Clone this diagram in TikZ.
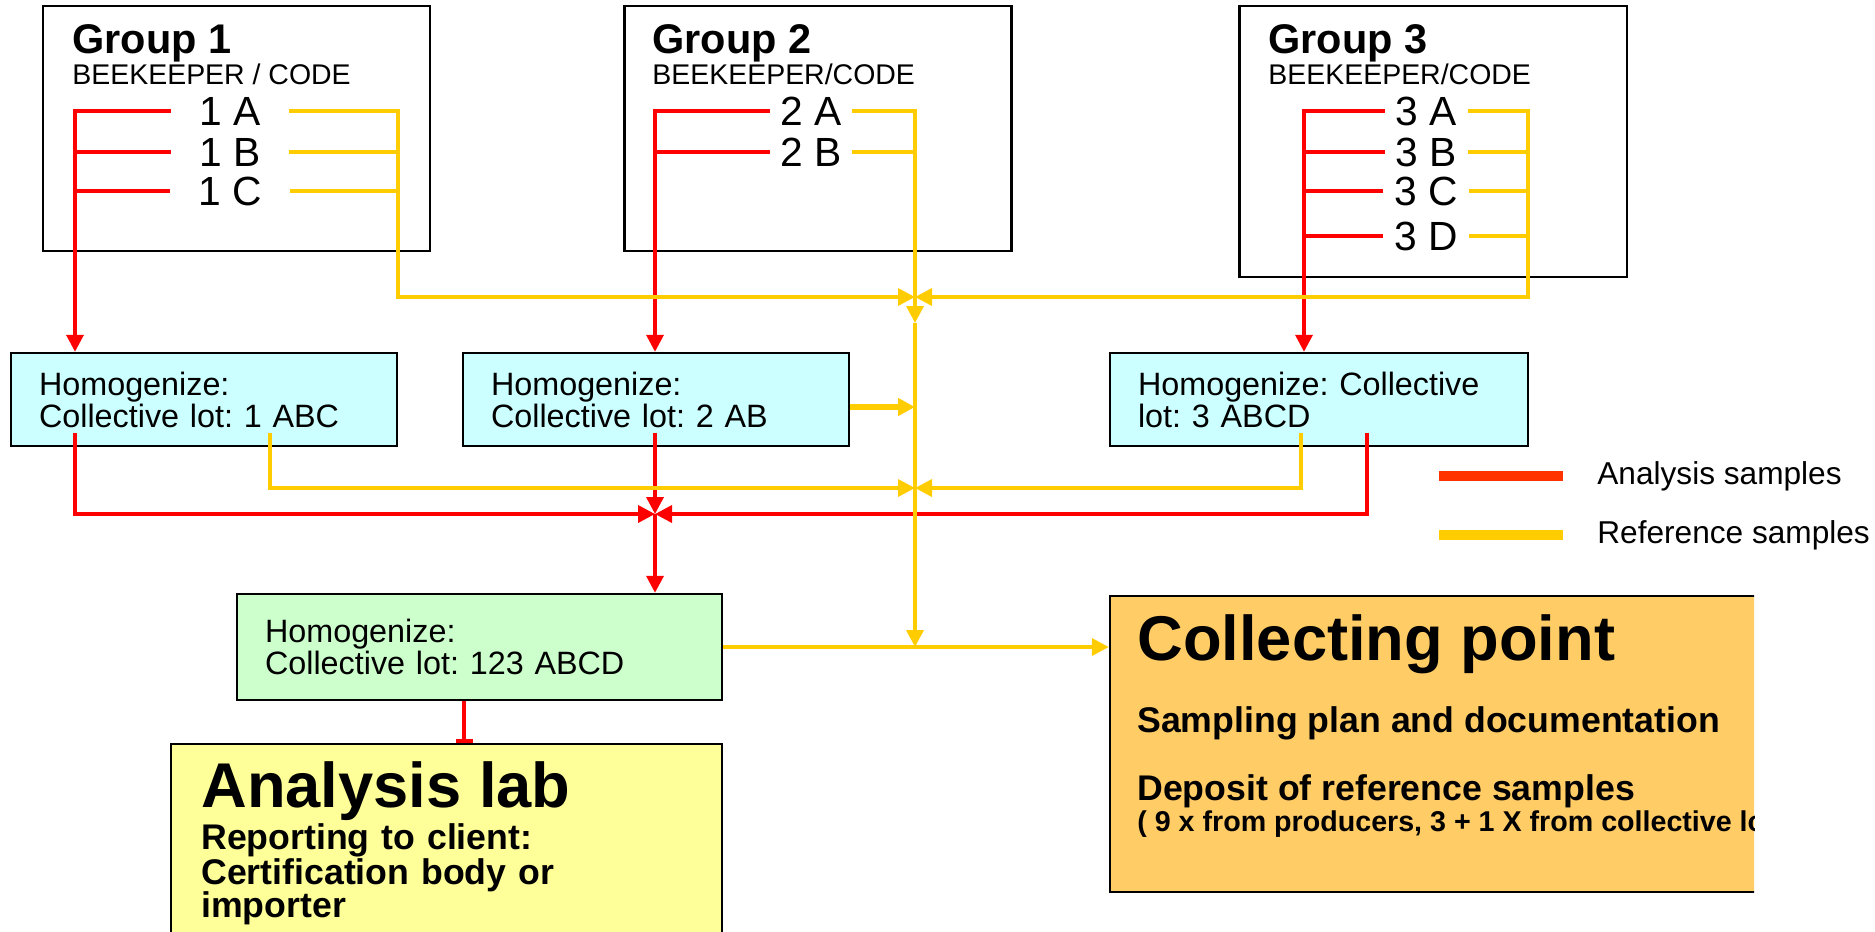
\documentclass[tikz,border=0pt]{standalone}
\usepackage{fontspec}
\setmainfont{Liberation Sans}
\usetikzlibrary{arrows.meta}
\frenchspacing

\definecolor{redline}{HTML}{FF0000}
\definecolor{yelline}{HTML}{FFCC00}
\definecolor{legred}{HTML}{FF3300}
\definecolor{homfill}{HTML}{CCFFFF}
\definecolor{lotfill}{HTML}{CCFFCC}
\definecolor{labfill}{HTML}{FFFF99}
\definecolor{colfill}{HTML}{FFCC66}

\tikzset{
  grpbox/.style={draw=black, line width=1.4pt, minimum width=7.75cm, inner sep=0pt},
  gtitle/.style={anchor=base west, inner sep=0pt, font=\fontsize{23.6}{28}\selectfont\bfseries},
  gsub/.style={anchor=base west, inner sep=0pt, font=\fontsize{16.2}{19}\selectfont},
  code/.style={inner xsep=6pt, inner ysep=0pt, font=\fontsize{23.2}{28}\selectfont},
  homog/.style={draw=black, line width=1.4pt, fill=homfill, minimum height=1.86cm,
    inner xsep=0.56cm, align=left, font=\fontsize{18.4}{17}\selectfont},
  bigtitle/.style={anchor=base west, inner sep=0pt, font=\fontsize{36}{40}\selectfont\bfseries},
  boldtext/.style={anchor=base west, inner sep=0pt, font=\fontsize{20.3}{19}\selectfont\bfseries},
  legtext/.style={anchor=west, inner sep=0pt, font=\fontsize{18}{20}\selectfont}
}

\begin{document}
\begin{tikzpicture}[x=0.02cm, y=-0.02cm,
  ana/.style={draw=redline, line width=2pt},
  ref/.style={draw=yelline, line width=2pt},
  tip/.style={-{Triangle[length=0.34cm,width=0.34cm]}}]
\useasboundingbox (0,0) rectangle (1875,931);

% group boxes
\node[grpbox, minimum height=4.9cm] (g1) at (236.5,128.5) {};
\node[grpbox, minimum height=4.9cm] (g2) at (818,128.5) {};
\node[grpbox, minimum height=5.42cm] (g3) at (1433,141.5) {};

\node[gtitle] (g1t) at (72,53) {Group 1};
\node[gsub] (g1s) at (72,84) {BEEKEEPER / CODE};
\node[gtitle] (g2t) at (652,53) {Group 2};
\node[gsub] (g2s) at (652,84) {BEEKEEPER/CODE};
\node[gtitle] (g3t) at (1268,53) {Group 3};
\node[gsub] (g3s) at (1268,84) {BEEKEEPER/CODE};

\node[code, inner xsep=16pt] (c1a) at (230,111) {1 A};
\node[code, inner xsep=16pt] (c1b) at (230,152) {1 B};
\node[code, inner xsep=16pt] (c1c) at (230,191) {1 C};
\node[code] (c2a) at (811,111) {2 A};
\node[code] (c2b) at (811,152) {2 B};
\node[code] (c3a) at (1426,111) {3 A};
\node[code] (c3b) at (1426,152) {3 B};
\node[code] (c3c) at (1426,191) {3 C};
\node[code] (c3d) at (1426,236) {3 D};

% homogenize boxes
\node[homog, text width=6.6cm] (h1) at (204,399.5) {Homogenize:\\Collective lot: 1 ABC};
\node[homog, text width=6.6cm] (h2) at (656,399.5) {Homogenize:\\Collective lot: 2 AB};
\node[homog, text width=7.24cm] (h3) at (1319,399.5) {Homogenize: Collective\\lot: 3 ABCD};
\node[homog, fill=lotfill, minimum height=2.12cm, text width=8.58cm] (lot) at (479.5,647)
  {Homogenize:\\Collective lot: 123 ABCD};

% analysis lab
\node[draw=black, line width=1.4pt, fill=labfill, minimum width=11.02cm, minimum height=4.32cm] (lab) at (446.5,852) {};
\node[bigtitle] (labt) at (201,807) {Analysis lab};
\node[boldtext, text width=9cm] (labr) at (201,849) {Reporting to client:\\Certification body or\\importer};

% collecting point
\begin{scope}
\clip (1000,560) rectangle (1754,931);
\node[draw=black, line width=1.4pt, fill=colfill, minimum width=13.8cm, minimum height=5.92cm] (col) at (1455,744) {};
\node[bigtitle] (colt) at (1137,660) {Collecting point};
\node[boldtext] (cols) at (1137,732) {Sampling plan and documentation};
\node[boldtext] (cold) at (1137,800) {Deposit of reference samples};
\node[boldtext, font=\fontsize{16.3}{18}\selectfont\bfseries] (coln) at (1137,831) {( 9 x from producers, 3 + 1 X from collective lo};
\end{scope}

% junctions
\coordinate (r1) at (75,111);
\coordinate (r2) at (655,111);
\coordinate (r3) at (1304,111);
\coordinate (y1) at (398,111);
\coordinate (y3) at (1528,111);
\coordinate (j1) at (915,297);
\coordinate (j1b) at (915,323);
\coordinate (j2) at (655,514);
\coordinate (j3) at (915,488);
\coordinate (h1a) at (75,433);
\coordinate (h1r) at (270,433);
\coordinate (h2a) at (655,433);
\coordinate (h2r) at (850,407);
\coordinate (h3r) at (1301,433);
\coordinate (h3a) at (1367,433);
\coordinate (la) at (464,0);

% analysis samples
\draw[ana, tip] (c1a.west) -- (r1) -- (r1 |- h1.north);
\draw[ana] (c1b.west) -- (c1b.west -| r1);
\draw[ana] (c1c.west) -- (c1c.west -| r1);
\draw[ana, tip] (c2a.west) -- (r2) -- (r2 |- h2.north);
\draw[ana] (c2b.west) -- (c2b.west -| r2);
\draw[ana, tip] (c3a.west) -- (r3) -- (r3 |- h3.north);
\draw[ana] (c3b.west) -- (c3b.west -| r3);
\draw[ana] (c3c.west) -- (c3c.west -| r3);
\draw[ana] (c3d.west) -- (c3d.west -| r3);
\draw[ana, tip] (h1a) |- (j2);
\draw[ana, tip] (h2a) -- (j2);
\draw[ana, tip] (h3a) |- (j2);
\draw[ana, tip] (j2) -- (lot.north -| j2);
\draw[ana, -{Bar[width=0.34cm]}] (lot.south -| la) -- (lab.north -| la);

% reference samples
\draw[ref, tip] (c1a.east) -- (y1) |- (j1);
\draw[ref] (c1b.east) -- (c1b.east -| y1);
\draw[ref] (c1c.east) -- (c1c.east -| y1);
\draw[ref, tip] (c2a.east) -- (c2a.east -| j1) -- (j1b);
\draw[ref] (c2b.east) -- (c2b.east -| j1);
\draw[ref, tip] (c3a.east) -- (y3) |- (j1);
\draw[ref] (c3b.east) -- (c3b.east -| y3);
\draw[ref] (c3c.east) -- (c3c.east -| y3);
\draw[ref] (c3d.east) -- (c3d.east -| y3);
\draw[ref, tip] (h1r) |- (j3);
\draw[ref, tip] (h3r) |- (j3);
\draw[ref, line width=3.4pt, tip] (h2r) -- (h2r -| j3);
\draw[ref, tip] (j1b) -- (lot.east -| j1);
\draw[ref, tip] (lot.east) -- (lot.east -| col.west);

% legend
\node[legtext] (lega) at (1597,476) {Analysis samples};
\node[legtext] (legr) at (1597,535) {Reference samples};
\coordinate (lra) at (1439,476);
\coordinate (lrr) at (1439,535);
\draw[draw=legred, line width=5.7pt] (lra) -- ([xshift=-0.68cm]lega.west);
\draw[draw=yelline, line width=5.7pt] (lrr) -- ([xshift=-0.68cm]legr.west);
\end{tikzpicture}
\end{document}
